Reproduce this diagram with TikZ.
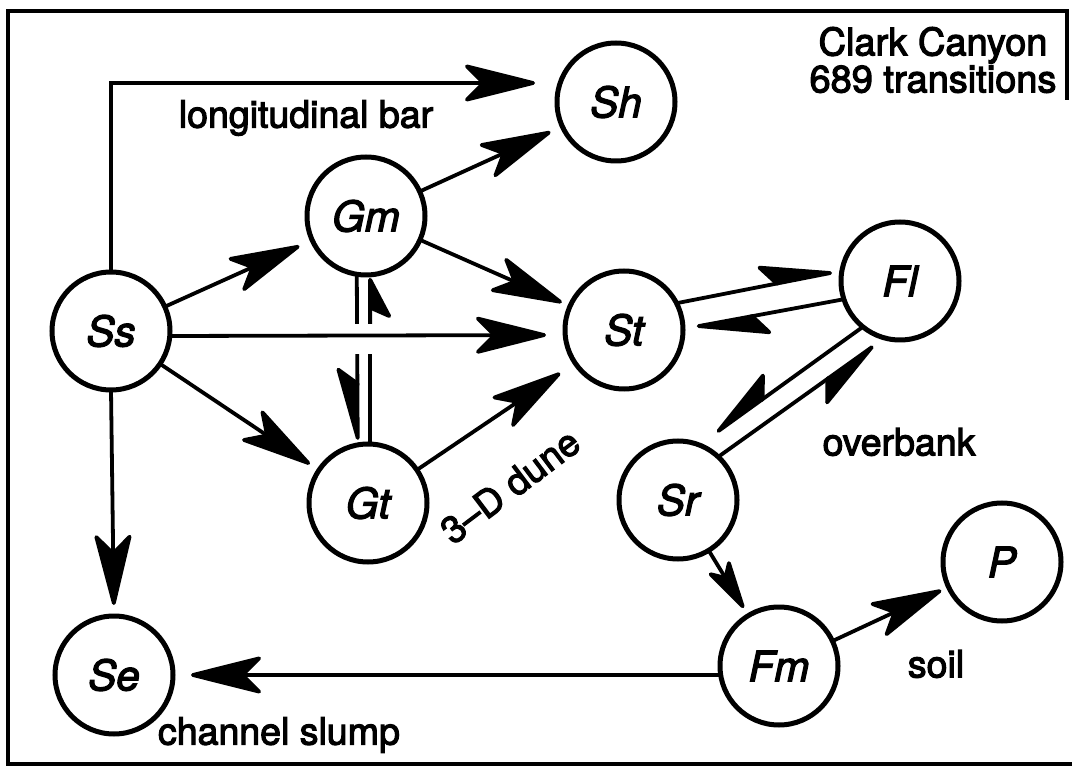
\documentclass[tikz,border=0pt]{standalone}
\usepackage{fontspec}
\setmainfont[FakeBold=3]{TeX Gyre Heros}
\usetikzlibrary{arrows.meta,calc}
\begin{document}
\begin{tikzpicture}[x=1pt,y=-1pt,
  state/.style={circle,draw,line width=5pt,minimum size=118pt,inner sep=0pt,outer sep=0pt,
    font=\fontsize{42}{48}\selectfont\itshape},
  lab/.style={font=\fontsize{37.5}{40}\selectfont,inner sep=0pt},
  link/.style={line width=3.8pt,-{Stealth[length=80pt,width=40pt,inset=20pt,round]},shorten >=#1},
  link/.default=12pt,
  harp/.style={line width=3.8pt,-{Stealth[length=80pt,width=44pt,inset=16pt,harpoon,round]},shorten >=#1},
  harp/.default=10pt,
  harpsw/.style={line width=3.8pt,-{Stealth[length=80pt,width=44pt,inset=16pt,harpoon,swap,round]},shorten >=#1},
  harpsw/.default=10pt,
]
\useasboundingbox (0,0) rectangle (1072,767);
% frame
\draw[line width=4pt] (1067,100) -- (1067,11) -- (8,11) -- (8,764) -- (1072,764);

% states
\node[state] (Ss) at (111,331) {Ss};
\node[state] (Sh) at (616,102) {Sh};
\node[state] (Gm) at (366,216) {Gm};
\node[state] (Gt) at (368,503) {Gt};
\node[state] (St) at (624,330) {St};
\node[state] (Fl) at (900,281) {Fl};
\node[state] (Sr) at (678,500) {Sr};
\node[state] (P)  at (1002,562) {P};
\node[state] (Fm) at (779,666) {Fm};
\node[state] (Se) at (114,675) {Se};

% labels
\node[lab,align=center,font=\fontsize{38}{37}\selectfont] (title) at (933,60) {Clark Canyon\\689 transitions};
\node[lab] (lbar) at (306,118) {longitudinal bar};
\node[lab,rotate=37] (ldune) at (510,486) {3--D dune};
\node[lab] (lover) at (899,442) {overbank};
\node[lab] (lsoil) at (936,664) {soil};
\node[lab] (lslump) at (279,735) {channel slump};

% Gm <-> Gt pair
\draw[harpsw=5pt] (Gm.261) -- (Gt.100);
\draw[harpsw=3pt,-{Stealth[length=44pt,width=46pt,inset=10pt,harpoon,swap,round]}] (Gt.88) -- (Gm.274);
\fill[white] (349,324) rectangle (380,354);

% connectors
\draw[link=19pt] ([yshift=-5pt]Ss.east) -- ([yshift=-5pt]St.west);
\draw[link=22pt] (Ss.north) |- ([yshift=19pt]Sh.west);
\draw[link=14pt] (Ss) -- (Gm);
\draw[link=11pt] (Ss) -- (Gt);
\draw[link=11pt] (Ss.south) -- (Se.north);
\draw[link=13pt] (Gm) -- (Sh);
\draw[link=9pt] (Gm) -- (St);
\draw[link=18pt] (Gt) -- (St);
\draw[harp=10pt] (St.27) -- (Fl.170);
\draw[harp=14pt] (Fl.198) -- (St.1);
\draw[harpsw=22pt] (Fl.231) -- (Sr.69);
\draw[harpsw=14pt] (Sr.47) -- (Fl.255);
\draw[link=9pt,-{Stealth[length=58pt,width=28pt,inset=14pt,round]}] (Sr) -- (Fm);
\draw[link=8pt] (Fm) -- (P);
\draw[link=18pt] (Fm.west |- Se) -- (Se.east);
\end{tikzpicture}
\end{document}
